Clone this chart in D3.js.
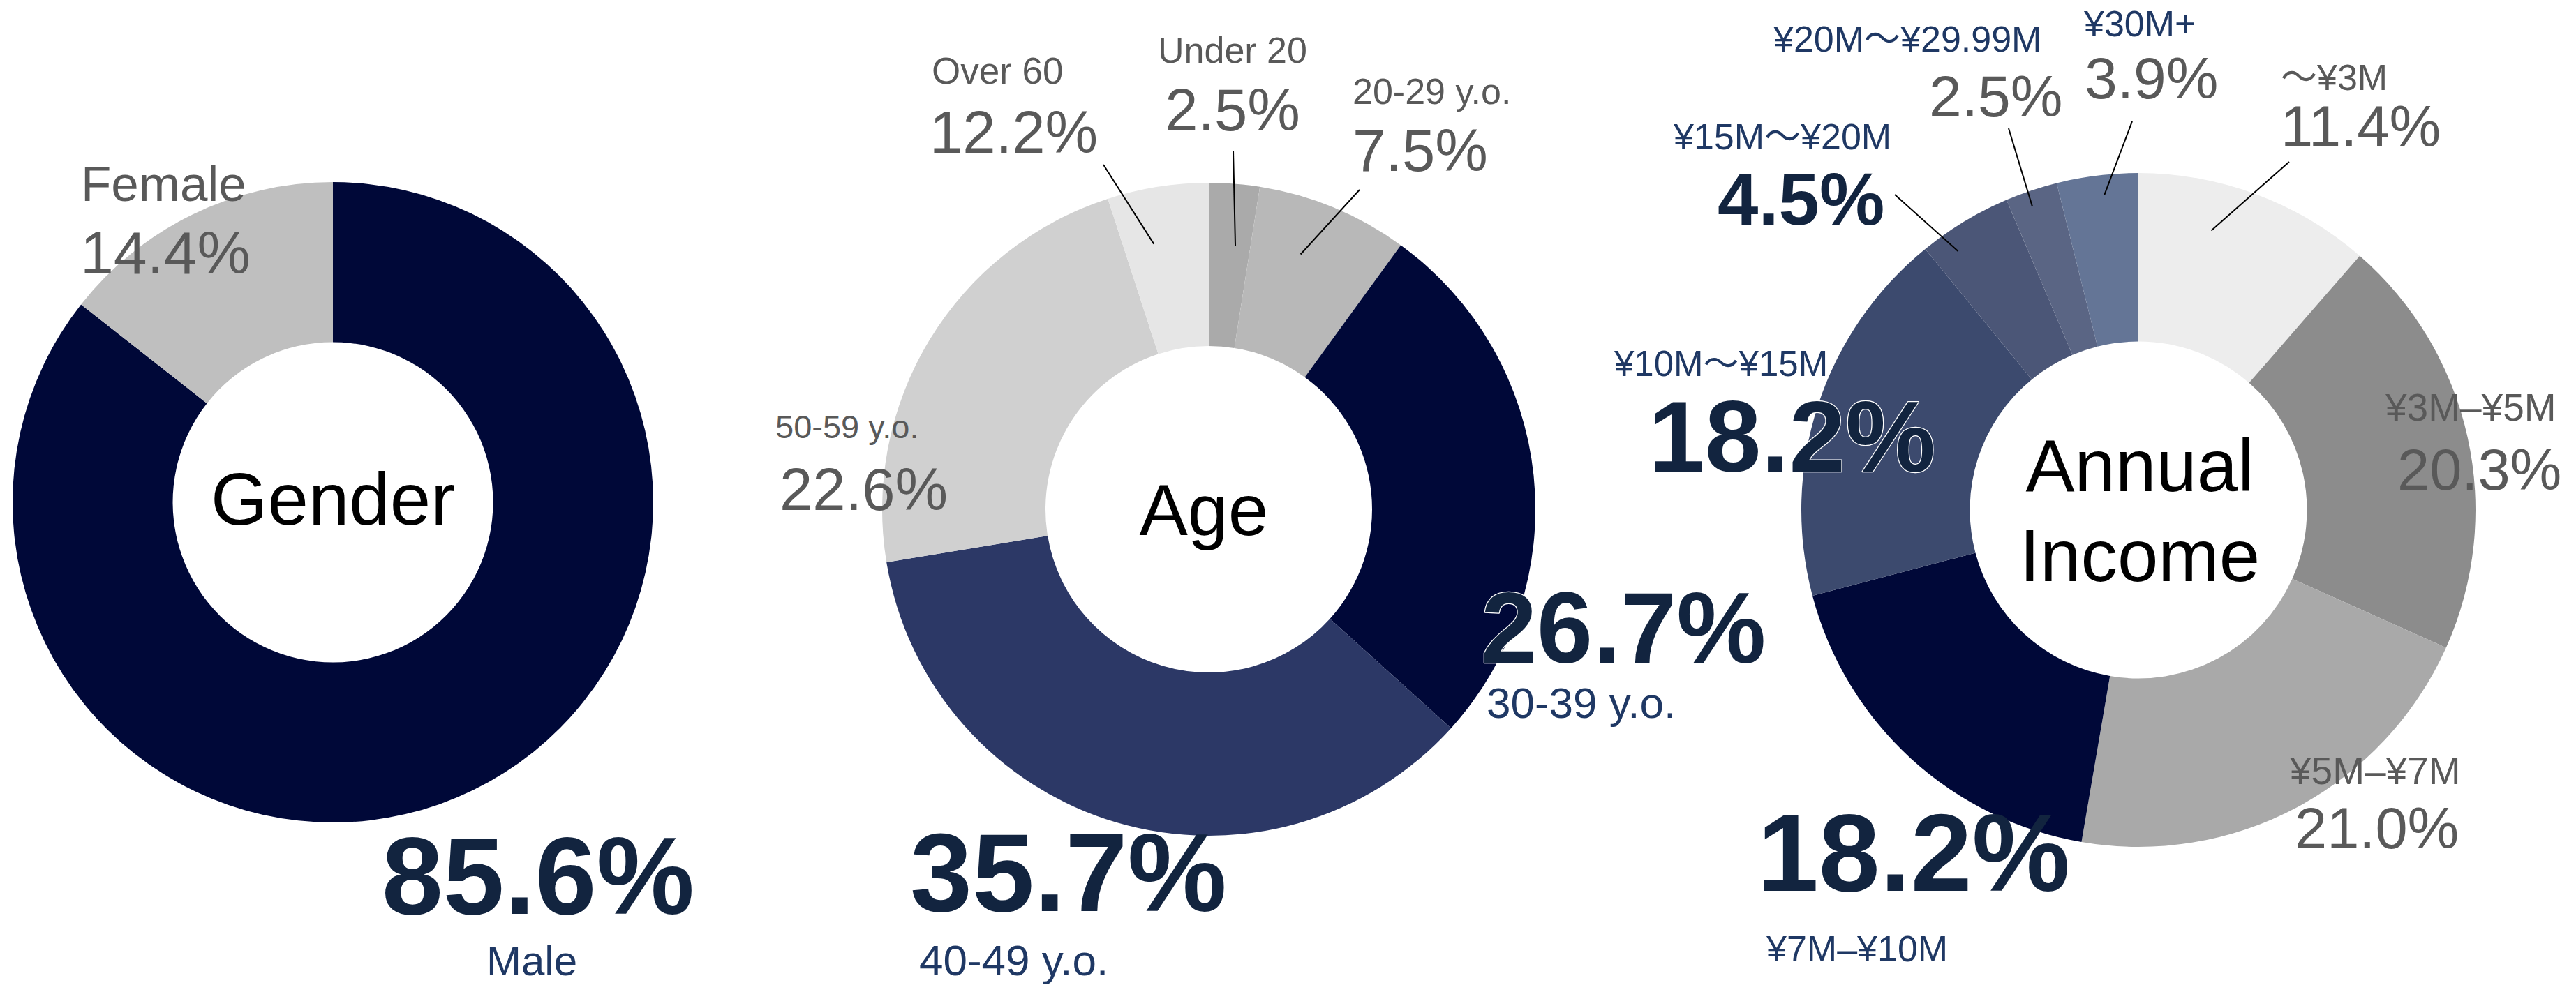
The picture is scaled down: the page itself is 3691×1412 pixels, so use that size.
<!DOCTYPE html>
<html>
<head>
<meta charset="utf-8">
<script src="https://cdn.jsdelivr.net/npm/d3@7"></script>
<style>
  html, body { margin: 0; padding: 0; background: #ffffff; }
  svg { display: block; }
  text { font-family: "Liberation Sans", Arial, "Noto Sans CJK JP", sans-serif; }
</style>
</head>
<body>
<script>
// ---------------- DATA ----------------
const genderCategories = ["Male", "Female"];
const genderValues = [85.6, 14.4];
const genderLabels = ["85.6%", "14.4%"];

const ageCategories = ["Under 20", "20-29 y.o.", "30-39 y.o.", "40-49 y.o.", "50-59 y.o.", "Over 60"];
const ageValues = [2.5, 7.5, 26.7, 35.7, 22.6, 5.0];      // wedge sizes as drawn
const ageLabels = ["2.5%", "7.5%", "26.7%", "35.7%", "22.6%", "12.2%"]; // printed labels

const incomeCategories = ["〜¥3M", "¥3M–¥5M", "¥5M–¥7M", "¥7M–¥10M", "¥10M〜¥15M", "¥15M〜¥20M", "¥20M〜¥29.99M", "¥30M+"];
const incomeValues = [11.4, 20.3, 21.0, 18.2, 18.2, 4.5, 2.5, 3.9];
const incomeLabels = ["11.4%", "20.3%", "21.0%", "18.2%", "18.2%", "4.5%", "2.5%", "3.9%"];

// ---------------- STYLE / LAYOUT ----------------
const W = 3691, H = 1412;
const NAVY_TEXT = "#12243f", LABEL_NAVY = "#1f3864", GRAY_TEXT = "#595959";

const charts = [
  {
    title: ["Gender"], cx: 477, cy: 720, r: 459, titleX: 477, titleY: [752], titleSize: 105,
    cats: genderCategories, vals: genderValues, labs: genderLabels,
    colors: ["#000838", "#bfbfbf"],
    text: [
      {cx: 697, cy: 1398, cs: 60, cc: LABEL_NAVY, vx: 547, vy: 1310, vs: 158, vb: true, vc: NAVY_TEXT},
      {cx: 116, cy: 288, cs: 71, cc: GRAY_TEXT, vx: 115, vy: 392, vs: 86, vb: false, vc: GRAY_TEXT}
    ]
  },
  {
    title: ["Age"], cx: 1732, cy: 730, r: 468, titleX: 1725, titleY: [767], titleSize: 104,
    cats: ageCategories, vals: ageValues, labs: ageLabels,
    colors: ["#aaaaaa", "#b8b8b8", "#000838", "#2c3866", "#d0d0d0", "#e6e6e6"],
    text: [
      {cx: 1766, cy: 90, cs: 52, cc: GRAY_TEXT, vx: 1766, vy: 187, vs: 85, vb: false, vc: GRAY_TEXT, anchor: "middle",
       leader: {t: 0.64, k: 0.81, x: 1767, y: 216}},
      {cx: 1938, cy: 149, cs: 52, cc: GRAY_TEXT, vx: 1938, vy: 245, vs: 85, vb: false, vc: GRAY_TEXT,
       leader: {t: 0.40, k: 0.83, x: 1948, y: 272}},
      {cx: 2130, cy: 1029, cs: 62, cc: LABEL_NAVY, vx: 2122, vy: 950, vs: 144, vb: true, vc: NAVY_TEXT, outline: true},
      {cx: 1317, cy: 1398, cs: 62, cc: LABEL_NAVY, vx: 1304, vy: 1306, vs: 160, vb: true, vc: NAVY_TEXT},
      {cx: 1111, cy: 628, cs: 47, cc: GRAY_TEXT, vx: 1117, vy: 731, vs: 85, vb: false, vc: GRAY_TEXT},
      {cx: 1335, cy: 120, cs: 53, cc: GRAY_TEXT, vx: 1332, vy: 219, vs: 85, vb: false, vc: GRAY_TEXT,
       leader: {t: 0.35, k: 0.83, x: 1581, y: 236}}
    ]
  },
  {
    title: ["Annual", "Income"], cx: 3064, cy: 731, r: 483, titleX: 3066, titleY: [704, 833], titleSize: 105,
    cats: incomeCategories, vals: incomeValues, labs: incomeLabels,
    colors: ["#ededed", "#8c8c8c", "#a9a9a9", "#000838", "#3c4a6e", "#4b5677", "#5a6584", "#647596"],
    text: [
      {cx: 3268, cy: 129, cs: 52, cc: GRAY_TEXT, vx: 3268, vy: 210, vs: 83, vb: false, vc: GRAY_TEXT,
       leader: {t: 0.356, k: 0.857, x: 3280, y: 232}},
      {cx: 3418, cy: 603, cs: 55, cc: GRAY_TEXT, vx: 3435, vy: 702, vs: 83, vb: false, vc: GRAY_TEXT},
      {cx: 3281, cy: 1124, cs: 55, cc: GRAY_TEXT, vx: 3288, vy: 1216, vs: 83, vb: false, vc: GRAY_TEXT},
      {cx: 2531, cy: 1378, cs: 52, cc: LABEL_NAVY, vx: 2518, vy: 1277, vs: 158, vb: true, vc: NAVY_TEXT},
      {cx: 2313, cy: 539, cs: 51, cc: LABEL_NAVY, vx: 2362, vy: 676, vs: 145, vb: true, vc: NAVY_TEXT, outline: true},
      {cx: 2398, cy: 214, cs: 52, cc: LABEL_NAVY, vx: 2461, vy: 322, vs: 105, vb: true, vc: NAVY_TEXT,
       leader: {t: 0.27, k: 0.936, x: 2715, y: 279}},
      {cx: 2541, cy: 74, cs: 52, cc: LABEL_NAVY, vx: 2764, vy: 167, vs: 84, vb: false, vc: GRAY_TEXT,
       leader: {t: 0.42, k: 0.955, x: 2878, y: 184}},
      {cx: 2986, cy: 52, cs: 52, cc: LABEL_NAVY, vx: 2987, vy: 141, vs: 84, vb: false, vc: GRAY_TEXT,
       leader: {t: 0.56, k: 0.94, x: 3055, y: 174}}
    ]
  }
];

// ---------------- DRAW ----------------
const svg = d3.select("body").append("svg")
  .attr("width", W).attr("height", H)
  .attr("viewBox", `0 0 ${W} ${H}`);

const pie = d3.pie().sort(null).value(d => d.v).startAngle(0).endAngle(2 * Math.PI);

charts.forEach(ch => {
  const data = ch.cats.map((c, i) => ({c, v: ch.vals[i], l: ch.labs[i], i}));
  const arcs = pie(data);
  const color = d3.scaleOrdinal().domain(ch.cats).range(ch.colors);
  const arc = d3.arc().innerRadius(ch.r * 0.5).outerRadius(ch.r);

  const g = svg.append("g").attr("transform", `translate(${ch.cx},${ch.cy})`);
  g.selectAll("path").data(arcs).join("path")
    .attr("d", arc)
    .attr("fill", d => color(d.data.c));

  // leader lines
  arcs.forEach((a, i) => {
    const t = ch.text[i];
    if (!t.leader) return;
    const ang = a.startAngle + t.leader.t * (a.endAngle - a.startAngle);
    const rr = ch.r * t.leader.k;
    const x1 = Math.sin(ang) * rr, y1 = -Math.cos(ang) * rr;
    g.append("line")
      .attr("x1", x1).attr("y1", y1)
      .attr("x2", t.leader.x - ch.cx).attr("y2", t.leader.y - ch.cy)
      .attr("stroke", "#000").attr("stroke-width", 2);
  });

  // title
  ch.title.forEach((tt, k) => {
    svg.append("text")
      .attr("x", ch.titleX).attr("y", ch.titleY[k])
      .attr("text-anchor", "middle")
      .attr("font-size", ch.titleSize)
      .attr("fill", "#000")
      .text(tt);
  });

  // labels
  arcs.forEach((a, i) => {
    const t = ch.text[i];
    const anchor = t.anchor || "start";
    svg.append("text")
      .attr("x", t.cx).attr("y", t.cy)
      .attr("text-anchor", anchor)
      .attr("font-size", t.cs)
      .attr("fill", t.cc)
      .text(a.data.c);
    const vt = svg.append("text")
      .attr("x", t.vx).attr("y", t.vy)
      .attr("text-anchor", anchor)
      .attr("font-size", t.vs)
      .attr("font-weight", t.vb ? "bold" : "normal")
      .attr("fill", t.vc)
      .text(a.data.l);
    if (t.outline) {
      vt.attr("stroke", "#ffffff").attr("stroke-width", 2.5)
        .attr("paint-order", "stroke").attr("stroke-linejoin", "round");
    }
  });
});
</script>
</body>
</html>
